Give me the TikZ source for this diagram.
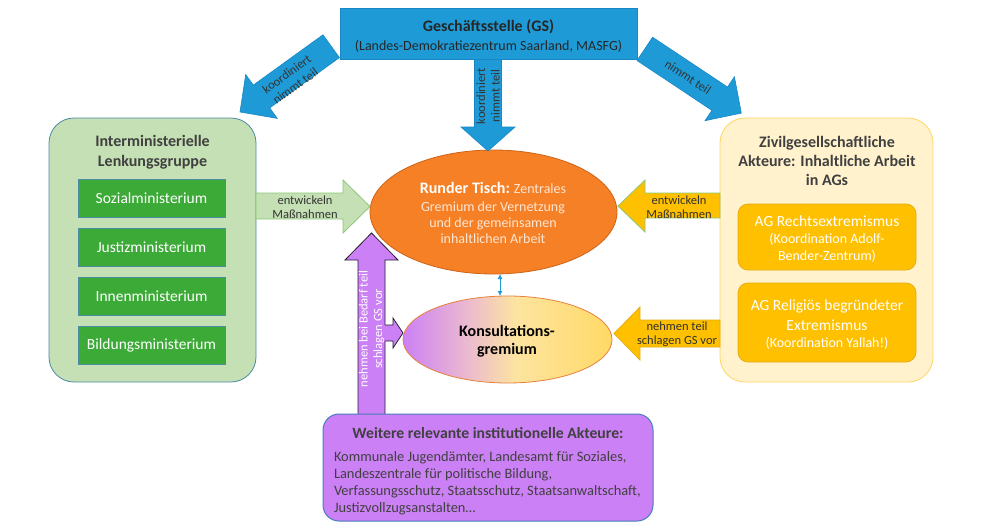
\documentclass[tikz,border=0pt]{standalone}
\usepackage{fontspec}
\setmainfont{Carlito}
\usetikzlibrary{shapes.geometric,arrows.meta}
\definecolor{gsblue}{RGB}{30,155,215}
\definecolor{gsborder}{RGB}{25,135,195}
\definecolor{lgreen}{RGB}{197,224,180}
\definecolor{lgborder}{RGB}{75,140,165}
\definecolor{dgreen}{RGB}{60,170,55}
\definecolor{garrowborder}{RGB}{140,200,120}
\definecolor{rtorange}{RGB}{245,128,37}
\definecolor{rtborder}{RGB}{205,100,25}
\definecolor{rttext}{RGB}{253,230,212}
\definecolor{kpurple}{RGB}{204,128,245}
\definecolor{kpink}{RGB}{236,188,205}
\definecolor{klyellow}{RGB}{253,228,160}
\definecolor{kyellow}{RGB}{255,217,102}
\definecolor{kborder}{RGB}{230,130,60}
\definecolor{lyellow}{RGB}{255,242,204}
\definecolor{lyborder}{RGB}{255,214,100}
\definecolor{ygold}{RGB}{255,192,0}
\definecolor{ygoldborder}{RGB}{232,172,20}
\definecolor{txtgray}{RGB}{64,64,64}
\definecolor{wbborder}{RGB}{70,125,190}
\definecolor{pborder}{RGB}{40,30,50}
\pgfdeclarehorizontalshading{konsshade}{100bp}{color(0bp)=(kpurple); color(25bp)=(kpurple); color(41bp)=(kpink); color(52bp)=(klyellow); color(75bp)=(kyellow); color(100bp)=(kyellow)}
\begin{document}
\begin{tikzpicture}[x=1pt,y=-1pt,
  every node/.style={inner sep=0pt, outer sep=0pt, text=txtgray},
  lbl/.style={font=\fontsize{12.5}{14.5}\selectfont, align=center, text=black!80},
  bluearrow/.style={fill=gsblue, draw=gsborder, line width=0.6pt},
  greenarrow/.style={fill=lgreen, draw=garrowborder, line width=0.8pt},
  yarrowA/.style={fill=ygold, draw=garrowborder, line width=0.8pt},
  yarrowB/.style={fill=ygold, draw=ygoldborder, line width=0.8pt},
  parrow/.style={fill=kpurple, draw=pborder, line width=0.8pt},
  titlefont/.style={font=\fontsize{16}{19.5}\selectfont\bfseries, align=center, text=txtgray},
  ministry/.style={fill=dgreen, draw=lgborder, line width=0.8pt, minimum width=147pt, minimum height=38pt, text=white, font=\fontsize{15.5}{18}\selectfont},
  agbox/.style={fill=ygold, draw=ygoldborder, line width=0.8pt, rounded corners=10pt, minimum width=178pt}
]
\useasboundingbox[fill=white] (0,0) rectangle (999,528);

% ellipses
\node[ellipse, fill=rtorange, draw=rtborder, line width=0.8pt, minimum width=247pt, minimum height=124pt] (rt) at (493.5,212) {};
\node[ellipse, shading=konsshade, draw=kborder, line width=0.8pt, minimum width=209pt, minimum height=87pt] (kg) at (507.5,339.5) {};
\node[text=white] (rt1) at (493,188) {{\fontsize{16}{19}\selectfont\bfseries Runder Tisch:}\hspace{4pt}{\fontsize{14}{17}\selectfont\color{rttext}Zentrales}};
\node[align=center, text=rttext, font=\fontsize{14}{16}\selectfont] (rt2) at (493,223) {Gremium der Vernetzung\\und der gemeinsamen\\inhaltlichen Arbeit};
\node[align=center, text=black, font=\fontsize{16}{18}\selectfont\bfseries] (kgt) at (507,341) {Konsultations-\\gremium};
\draw[gsblue, line width=1pt, {Latex[length=5pt,width=5pt]}-{Latex[length=5pt,width=5pt]}] ([xshift=6.5pt]rt.south) -- ([xshift=-7.5pt]kg.north);

% blue arrows from GS
\path[bluearrow] (323,34.8)--(253.3,85.1)--(245.7,74.6)--(240,112)--(277.3,118.4)--(269.7,107.9)--(339.4,57.6)--cycle;
\node[lbl, rotate=35.8] (lblL) at (291,80) {koordiniert\\nimmt teil};
\path[bluearrow] (652.6,37.2)--(727.5,87.05)--(734.4,76.7)--(741.3,113.1)--(705,120.7)--(711.9,110.35)--(637,60.5)--cycle;
\node[lbl, rotate=-33.7] (lblR) at (688,77) {nimmt teil};
\path[bluearrow] (474.5,57)--(474.5,127)--(461,127)--(488,151)--(515,127)--(501.5,127)--(501.5,57)--cycle;
\node[lbl, rotate=90] (lblC) at (488,96) {koordiniert\\nimmt teil};

% GS box
\node[fill=gsblue, draw=gsborder, line width=0.6pt, minimum width=297pt, minimum height=51pt] (gs) at (488.5,33.5) {};
\node[text=black!85, font=\fontsize{16}{19}\selectfont\bfseries] (gs1) at (488.5,27) {Geschäftsstelle (GS)};
\node[text=black!85, font=\fontsize{14}{17}\selectfont] (gs2) at (488.5,46.5) {(Landes-Demokratiezentrum Saarland, MASFG)};

% left group
\node[fill=lgreen, draw=lgborder, line width=0.8pt, rounded corners=25pt, minimum width=207pt, minimum height=264pt] (lg) at (152.5,250) {};
\node[titlefont] (lgt) at (152.5,152) {Interministerielle\\Lenkungsgruppe};
\node[ministry] (m1) at (151.5,198) {Sozialministerium};
\node[ministry] (m2) at (151.5,247) {Justizministerium};
\node[ministry] (m3) at (151.5,296) {Innenministerium};
\node[ministry] (m4) at (151.5,345) {Bildungsministerium};
\path[greenarrow] (256,193)--(343,193)--(343,180)--(370,206.5)--(343,233)--(343,219)--(256,219)--cycle;
\node[lbl] (lblG) at (305,207) {entwickeln\\Maßnahmen};

% right group
\node[fill=lyellow, draw=lyborder, line width=0.8pt, rounded corners=25pt, minimum width=213pt, minimum height=264pt] (zg) at (826.5,250) {};
\node[titlefont, font=\fontsize{16}{19}\selectfont\bfseries] (zgt) at (827,161) {Zivilgesellschaftliche\\Akteure: Inhaltliche Arbeit\\in AGs};
\node[agbox, minimum height=66pt] (ag1) at (827,237) {};
\node[text=white, font=\fontsize{15.5}{18}\selectfont] (ag1a) at (827,221) {AG Rechtsextremismus};
\node[text=white, align=center, font=\fontsize{14}{17}\selectfont] (ag1b) at (827,247.5) {(Koordination Adolf-\\Bender-Zentrum)};
\node[agbox, minimum height=79pt] (ag2) at (827,322.5) {};
\node[text=white, align=center, font=\fontsize{15.5}{20}\selectfont] (ag2a) at (827,315) {AG Religiös begründeter\\Extremismus};
\node[text=white, font=\fontsize{14}{17}\selectfont] (ag2b) at (827,343) {(Koordination Yallah!)};
\path[yarrowA] (720,193)--(645,193)--(645,180)--(618,206)--(645,232)--(645,218)--(720,218)--cycle;
\node[lbl] (lblY1) at (679,207) {entwickeln\\Maßnahmen};
\path[yarrowB] (720,320)--(640,320)--(640,307)--(614,333.5)--(640,360)--(640,347)--(720,347)--cycle;
\node[lbl] (lblY2) at (677,334) {nehmen teil\\schlagen GS vor};

% purple arrows
\path[parrow] (358,416)--(358,260)--(345,260)--(371.5,233)--(398,260)--(385,260)--(385,416)--cycle;
\node[lbl, rotate=90, text=white] (lblP) at (371.5,329) {nehmen bei Bedarf teil\\schlagen GS vor};
\fill[kpurple] (384,325)--(393,325)--(393,318)--(403,333)--(393,348)--(393,341)--(384,341)--cycle;
\draw[pborder, line width=0.8pt] (385,325)--(393,325)--(393,318)--(403,333)--(393,348)--(393,341)--(385,341);

% Weitere box
\node[fill=kpurple, draw=wbborder, line width=1pt, rounded corners=16pt, minimum width=330pt, minimum height=107pt] (wb) at (488,467.5) {};
\node[font=\fontsize{15.7}{18}\selectfont\bfseries, text=txtgray] (wbt) at (488,433) {Weitere relevante institutionelle Akteure:};
\node[anchor=north west, align=left, font=\fontsize{14.4}{17}\selectfont, text=txtgray] (wbb) at (334,451) {Kommunale Jugendämter, Landesamt für Soziales,\\Landeszentrale für politische Bildung,\\Verfassungsschutz, Staatsschutz, Staatsanwaltschaft,\\Justizvollzugsanstalten…};
\end{tikzpicture}
\end{document}
